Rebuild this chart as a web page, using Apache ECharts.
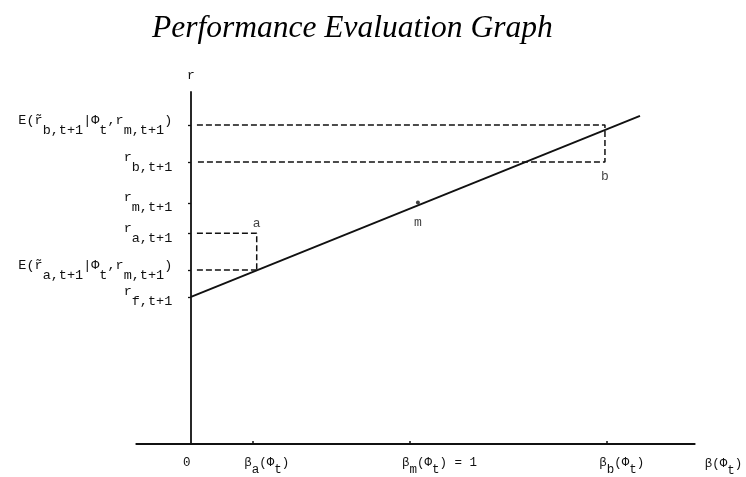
<!DOCTYPE html>
<html><head><meta charset="utf-8">
<script src="https://cdn.jsdelivr.net/npm/echarts@6/dist/echarts.min.js"></script>
<style>html,body{margin:0;padding:0;background:#fff}#c{width:746px;height:477px}</style>
</head><body><div id="c"></div>
<script>
// ---- data ----
const titleText = 'Performance Evaluation Graph';
const yTickValues = [90.6, 80.1, 68.5, 59.9, 49.4, 41.8];
const yTickLabels = [
  '{m|E(r\u0303}{s|b,t+1}{m||\u03A6}{s|t}{m|,r}{s|m,t+1}{m|)}',
  '{m|r}{s|b,t+1}',
  '{m|r}{s|m,t+1}',
  '{m|r}{s|a,t+1}',
  '{m|E(r\u0303}{s|a,t+1}{m||\u03A6}{s|t}{m|,r}{s|m,t+1}{m|)}',
  '{m|r}{s|f,t+1}'
];
const xTickValues = [0.28, 1, 1.9];
const xLabelValues = [0, 0.28, 1, 1.9];
const xTickLabels = [
  '{m|0}',
  '{m|\u03B2}{s|a}{m|(\u03A6}{s|t}{m|)}',
  '{m|\u03B2}{s|m}{m|(\u03A6}{s|t}{m|) = 1}',
  '{m|\u03B2}{s|b}{m|(\u03A6}{s|t}{m|)}'
];
const xAxisName = '{m|\u03B2(\u03A6}{s|t}{m|)}';
const yAxisName = 'r';
const marketLine = [[0, 41.8], [2.05, 93.2]];
const pointM = [1.036, 68.6];
const betaA = 0.30, betaB = 1.89;
const rA = 59.9, eA = 49.4, rB = 80.1, eB = 90.6;
const dashStart = 0.027;
const pointLabels = ['a', 'b', 'm'];

// ---- chart ----
const mono = 'Liberation Mono, DejaVu Sans Mono, monospace';
const ink = '#111';
const richY = {
  m: {fontFamily: mono, fontSize: 13.5, color: ink, padding: [0, 0, 10, 0]},
  s: {fontFamily: mono, fontSize: 13.5, color: ink, padding: [10, 0, 0, 0]}
};
const richX = {
  m: {fontFamily: mono, fontSize: 12.5, color: ink, padding: [0, 0, 7, 0]},
  s: {fontFamily: mono, fontSize: 12.5, color: ink, padding: [7, 0, 0, 0]}
};
function lookup(vals, labels, v) {
  for (let i = 0; i < vals.length; i++) if (Math.abs(vals[i] - v) < 1e-6) return labels[i];
  return '';
}
const dashStyle = {color: ink, width: 1.5, type: [6, 3]};
const chart = echarts.init(document.getElementById('c'), null, {renderer: 'canvas'});
chart.setOption({
  backgroundColor: '#fff',
  animation: false,
  title: {
    text: titleText, left: 147, top: 8,
    textStyle: {fontFamily: 'Liberation Serif', fontStyle: 'italic', fontWeight: 'normal', fontSize: 31.5, color: '#000'}
  },
  grid: {left: 136.25, right: 51.25, top: 92, bottom: 33, containLabel: false, outerBoundsMode: 'none'},
  xAxis: {
    type: 'value', min: -0.25, max: 2.3,
    splitLine: {show: false},
    axisLine: {lineStyle: {color: ink, width: 1.8}},
    axisTick: {customValues: xTickValues, inside: true, length: 3, lineStyle: {color: ink, width: 1.5}},
    axisLabel: {
      customValues: xLabelValues, align: 'left', padding: [0, 0, 0, -8], margin: 12,
      formatter: v => lookup(xLabelValues, xTickLabels, v), rich: richX
    },
    name: xAxisName, nameLocation: 'end', nameGap: 10,
    nameTextStyle: {align: 'left', verticalAlign: 'top', padding: [13, 0, 0, 0], rich: richX}
  },
  yAxis: {
    type: 'value', min: 0, max: 100,
    splitLine: {show: false},
    axisLine: {onZero: true, lineStyle: {color: ink, width: 1.8}},
    axisTick: {customValues: yTickValues, length: 3, lineStyle: {color: ink, width: 1.3}},
    axisLabel: {
      customValues: yTickValues, margin: -36,
      formatter: v => lookup(yTickValues, yTickLabels, v), rich: richY
    },
    name: yAxisName, nameLocation: 'end', nameGap: 10,
    nameTextStyle: {fontFamily: mono, fontSize: 13, color: ink}
  },
  series: [
    {type: 'line', data: marketLine, symbol: 'none', lineStyle: {color: ink, width: 1.9}, z: 3},
    {type: 'line', data: [[dashStart, rA], [betaA, rA], [betaA, eA]], symbol: 'none', lineStyle: dashStyle},
    {type: 'line', data: [[dashStart, eA], [betaA, eA]], symbol: 'none', lineStyle: dashStyle},
    {type: 'line', data: [[dashStart, eB], [betaB, eB], [betaB, rB], [dashStart, rB]], symbol: 'none', lineStyle: dashStyle},
    {type: 'scatter', data: [pointM], symbolSize: 4, itemStyle: {color: ink}, z: 4},
    {
      type: 'scatter', symbolSize: 0,
      data: [
        {value: [betaA, rA], name: pointLabels[0], label: {position: 'top', distance: 3}},
        {value: [betaB, rB], name: pointLabels[1], label: {position: 'bottom', distance: 8}},
        {value: pointM, name: pointLabels[2], label: {position: 'bottom', distance: 14}}
      ],
      label: {show: true, formatter: p => p.name, fontFamily: mono, fontSize: 13, color: ink}
    }
  ]
});
</script></body></html>
